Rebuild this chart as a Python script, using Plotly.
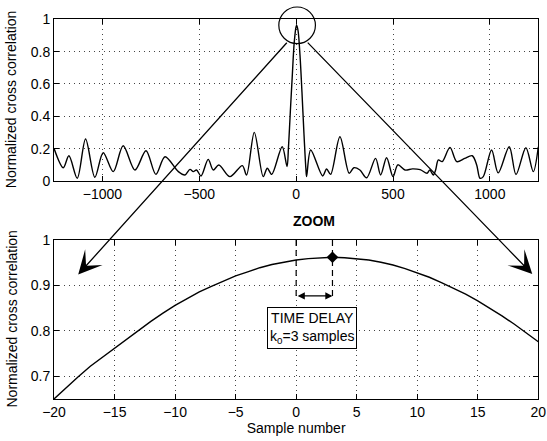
import plotly.graph_objects as go

# ---------------- data ----------------
# Top panel: normalized cross correlation vs lag (key points)
top_lag = [-1250, -1202, -1173, -1130, -1087, -1039, -996, -944, -893, -832,
           -775, -724, -677, -608, -574, -548, -531, -514, -491, -454,
           -428, -399, -342, -278, -256, -216, -170, -149, -126, -72,
           -47, -40, -30, -20, -10, 0, 3, 10, 20, 30,
           40, 50, 54, 75, 137, 157, 178, 226, 274, 298,
           329, 364, 410, 436, 467, 500, 525, 562, 600, 640,
           676, 690, 708, 720, 734, 754, 794, 829, 870, 909,
           932, 949, 966, 1009, 1043, 1100, 1135, 1186, 1224, 1250]
top_corr = [0.202, 0.082, 0.156, 0.017, 0.260, 0.023, 0.175, 0.058, 0.218, 0.068,
            0.187, 0.041, 0.150, 0.058, 0.037, 0.072, 0.058, 0.068, 0.031, 0.134,
            0.068, 0.099, 0.027, 0.095, 0.037, 0.301, 0.027, 0.079, 0.041, 0.212,
            0.090, 0.200, 0.430, 0.650, 0.856, 0.956, 0.962, 0.928, 0.776, 0.550,
            0.300, 0.080, 0.027, 0.192, 0.031, 0.074, 0.041, 0.274, 0.048, 0.082,
            0.068, 0.020, 0.140, 0.037, 0.144, 0.027, 0.100, 0.068, 0.075, 0.070,
            0.048, 0.068, 0.037, 0.068, 0.130, 0.120, 0.208, 0.120, 0.140, 0.156,
            0.099, 0.017, 0.027, 0.192, 0.050, 0.212, 0.040, 0.206, 0.058, 0.212]

# Bottom panel: zoom on the main peak
zoom_lag = list(range(-20, 21))
zoom_corr = [0.650, 0.675, 0.699, 0.722, 0.742, 0.760, 0.781, 0.801, 0.821, 0.839,
             0.856, 0.871, 0.886, 0.898, 0.910, 0.921, 0.930, 0.939, 0.946, 0.951,
             0.956, 0.959, 0.961, 0.962, 0.961, 0.959, 0.956, 0.951, 0.945, 0.937,
             0.928, 0.918, 0.906, 0.894, 0.881, 0.866, 0.850, 0.833, 0.815, 0.796,
             0.776]

peak_lag = 3
peak_corr = 0.962
delay_bar_top = 1.0
delay_bar_bottom = 0.868
delay_arrow_y = 0.877

top_xticks = [-1000, -500, 0, 500, 1000]
top_yticks = [0, 0.2, 0.4, 0.6, 0.8, 1]
zoom_xticks = list(range(-20, 21, 5))
zoom_yticks = [0.7, 0.8, 0.9, 1]

y_title = "Normalized cross correlation"
x_title = "Sample number"

# ---------------- layout geometry ----------------
W, H = 547, 441
XD = [54 / W, 538.3 / W]
TOP_YD = [1 - 181 / H, 1 - 19.3 / H]
BOT_YD = [1 - 399 / H, 1 - 240 / H]
TOP_XR, TOP_YR = [-1250, 1250], [0, 1]
BOT_XR, BOT_YR = [-20, 20], [0.65, 1]


def to_px(x, y, xr, yr, yd):
    px = (XD[0] + (x - xr[0]) / (xr[1] - xr[0]) * (XD[1] - XD[0])) * W
    py = (1 - (yd[0] + (y - yr[0]) / (yr[1] - yr[0]) * (yd[1] - yd[0]))) * H
    return px, py


FONT = "Liberation Sans, Arial, Helvetica, sans-serif"
FS = 14

fig = go.Figure()
fig.add_trace(go.Scatter(x=top_lag, y=top_corr, mode="lines",
                         line=dict(color="black", width=1.4, shape="spline", smoothing=0.9),
                         xaxis="x", yaxis="y", showlegend=False))
fig.add_trace(go.Scatter(x=zoom_lag, y=zoom_corr, mode="lines",
                         line=dict(color="black", width=1.4),
                         xaxis="x2", yaxis="y2", showlegend=False))
# dashed delay markers
for xv in (0, peak_lag):
    fig.add_trace(go.Scatter(x=[xv, xv], y=[delay_bar_top, delay_bar_bottom], mode="lines",
                             line=dict(color="black", width=1.2, dash="6px,4px"),
                             xaxis="x2", yaxis="y2", showlegend=False))
fig.add_trace(go.Scatter(x=[peak_lag], y=[peak_corr], mode="markers",
                         marker=dict(symbol="diamond", size=9, color="black"),
                         xaxis="x2", yaxis="y2", showlegend=False))

axis_common = dict(showline=True, linecolor="black", linewidth=1, mirror="ticks",
                   ticks="inside", ticklen=5, tickcolor="black",
                   showgrid=True, gridcolor="#444", gridwidth=1, griddash="1px,4px",
                   zeroline=False, automargin=False,
                   tickfont=dict(family=FONT, size=FS, color="black"))

fig.update_layout(
    width=W, height=H, margin=dict(l=0, r=0, t=0, b=0),
    paper_bgcolor="white", plot_bgcolor="white",
    font=dict(family=FONT, size=FS, color="black"),
    xaxis=dict(domain=XD, range=TOP_XR, tickvals=top_xticks, anchor="y", **axis_common),
    yaxis=dict(domain=TOP_YD, range=TOP_YR, tickvals=top_yticks, anchor="x", **axis_common),
    xaxis2=dict(domain=XD, range=BOT_XR, tickvals=zoom_xticks, anchor="y2",
                title=dict(text=x_title, font=dict(size=FS), standoff=2),
                **axis_common),
    yaxis2=dict(domain=BOT_YD, range=BOT_YR, tickvals=zoom_yticks, anchor="x2",
                tickformat=".1~f", **axis_common),
)

# rotated y-axis titles
for yd in (TOP_YD, BOT_YD):
    fig.add_annotation(x=11 / W, y=(yd[0] + yd[1]) / 2, xref="paper", yref="paper",
                       text=y_title, textangle=-90, showarrow=False,
                       xanchor="center", yanchor="middle",
                       font=dict(family=FONT, size=FS, color="black"))

# circle around the main peak of the top panel
cx, cy = to_px(5, 0.963, TOP_XR, TOP_YR, TOP_YD)
R = 18.3
fig.add_shape(type="circle", xref="paper", yref="paper",
              x0=(cx - R) / W, x1=(cx + R) / W, y0=1 - (cy + R) / H, y1=1 - (cy - R) / H,
              line=dict(color="black", width=1.2))

# zoom arrows from the circle to the bottom panel
for tip_x, tip_y, ang_dx, ang_dy in [(-18.0, 0.924, -0.49, 0.87), (19.5, 0.925, 0.5, 0.866)]:
    tx, ty = to_px(tip_x, tip_y, BOT_XR, BOT_YR, BOT_YD)
    sx, sy = cx + R * ang_dx, cy + R * ang_dy
    fig.add_annotation(x=tip_x, y=tip_y, xref="x2", yref="y2", text="",
                       showarrow=True, ax=sx - tx, ay=sy - ty,
                       arrowhead=3, arrowsize=3, arrowwidth=1.3, arrowcolor="black")

# double arrow for time delay
fig.add_annotation(x=peak_lag, y=delay_arrow_y, xref="x2", yref="y2",
                   ax=0, ay=delay_arrow_y, axref="x2", ayref="y2", text="",
                   showarrow=True, arrowside="end+start", arrowhead=2,
                   arrowsize=1.1, arrowwidth=1.3, arrowcolor="black")

fig.add_annotation(x=1.3, y=0.807, xref="x2", yref="y2", showarrow=False,
                   text="TIME DELAY<br>k<sub>0</sub>=3 samples",
                   font=dict(family=FONT, size=FS, color="black"),
                   bgcolor="white", bordercolor="black", borderwidth=1, borderpad=2)

fig.add_annotation(x=314 / W, y=1 - 221 / H, xref="paper", yref="paper", showarrow=False,
                   text="<b>ZOOM</b>", font=dict(family=FONT, size=FS, color="black"))

fig.write_html("out.html")
